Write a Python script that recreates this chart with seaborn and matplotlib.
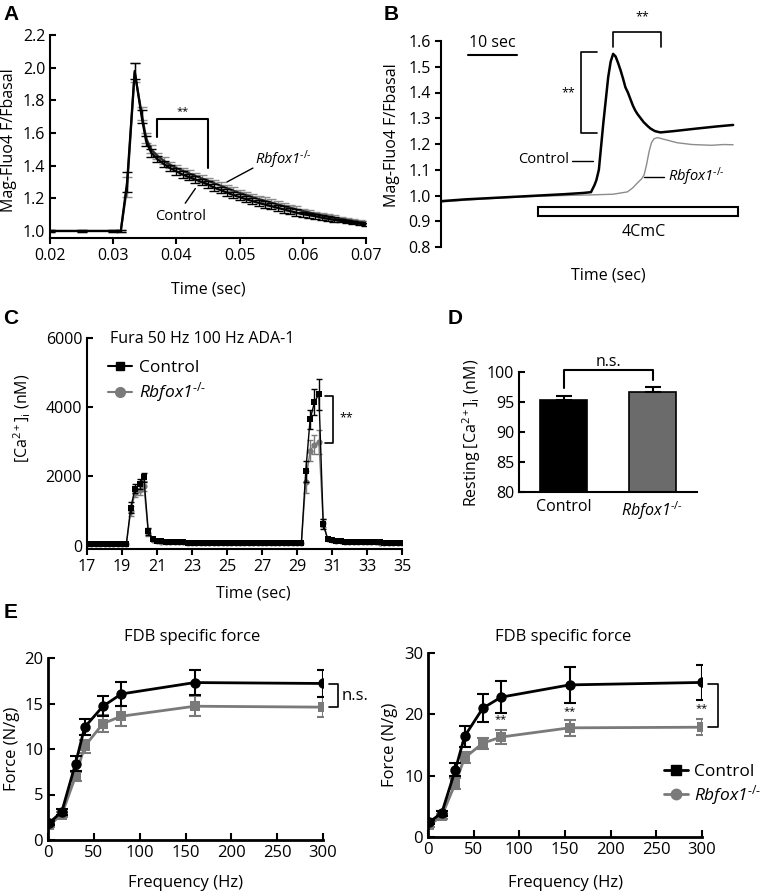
import matplotlib
matplotlib.use("Agg")
import matplotlib.pyplot as plt
from matplotlib.lines import Line2D
from matplotlib.patches import Rectangle
from matplotlib.ticker import FormatStrFormatter
import numpy as np
import pandas as pd
import seaborn as sns

# ---------------- Panel A data (Mag-Fluo4 transient) ----------------
tA = [0.020, 0.025, 0.030, 0.0312, 0.0322, 0.0334, 0.0345, 0.0352, 0.036,
      0.037, 0.038, 0.039, 0.040, 0.041, 0.042, 0.043, 0.044, 0.045, 0.046,
      0.047, 0.048, 0.049, 0.050, 0.051, 0.052, 0.053, 0.054, 0.055, 0.056,
      0.057, 0.058, 0.059, 0.060, 0.061, 0.062, 0.063, 0.064, 0.065, 0.066,
      0.067, 0.068, 0.069, 0.070]
ctrlA = [1.0, 1.0, 1.0, 1.0, 1.30, 1.98, 1.70, 1.55, 1.48,
         1.44, 1.41, 1.385, 1.365, 1.345, 1.33, 1.315, 1.30, 1.285, 1.265,
         1.25, 1.235, 1.22, 1.207, 1.195, 1.183, 1.172, 1.162, 1.152, 1.142,
         1.132, 1.122, 1.112, 1.103, 1.097, 1.09, 1.082, 1.075, 1.068, 1.062,
         1.056, 1.05, 1.045, 1.04]
rbA = [1.0, 1.0, 1.0, 1.0, 1.27, 1.97, 1.72, 1.57, 1.50,
       1.46, 1.43, 1.405, 1.385, 1.368, 1.352, 1.337, 1.322, 1.307, 1.292,
       1.277, 1.262, 1.247, 1.233, 1.22, 1.208, 1.196, 1.185, 1.174, 1.163,
       1.152, 1.142, 1.132, 1.122, 1.113, 1.104, 1.096, 1.088, 1.081, 1.074,
       1.067, 1.061, 1.055, 1.05]
ctrlA_err = [0.005, 0.005, 0.005, 0.005, 0.06, 0.05, 0.04, 0.03, 0.025,
             0.02, 0.02, 0.02, 0.02, 0.02, 0.02, 0.02, 0.02, 0.02, 0.02,
             0.02, 0.02, 0.02, 0.02, 0.02, 0.02, 0.02, 0.02, 0.02, 0.02,
             0.02, 0.02, 0.02, 0.015, 0.015, 0.015, 0.015, 0.015, 0.015, 0.01,
             0.01, 0.01, 0.01, 0.01]
rbA_err = [0.005, 0.005, 0.005, 0.005, 0.06, 0.06, 0.04, 0.03, 0.025,
           0.02, 0.02, 0.02, 0.02, 0.02, 0.02, 0.02, 0.02, 0.02, 0.02,
           0.02, 0.02, 0.02, 0.02, 0.02, 0.02, 0.02, 0.02, 0.02, 0.02,
           0.02, 0.02, 0.02, 0.015, 0.015, 0.015, 0.015, 0.015, 0.015, 0.01,
           0.01, 0.01, 0.01, 0.01]

# ---------------- Panel B data (4CmC response, seconds) ----------------
tB_ctrl = [0, 5, 10, 15, 20, 25, 29, 30.5, 31.2, 31.6, 32.1, 32.6, 33.0, 33.5,
           34.0, 34.5, 35.0, 35.5, 36.0, 36.5, 37.0, 37.5, 38.0, 38.5, 39.0,
           39.5, 40.0, 40.6, 41.2, 42.0, 42.6, 43.5, 44.6, 47.3, 52.0, 56.0, 59.4]
yB_ctrl = [0.978, 0.985, 0.99, 0.995, 1.0, 1.005, 1.01, 1.013, 1.04, 1.06, 1.10,
           1.20, 1.28, 1.37, 1.46, 1.52, 1.55, 1.54, 1.515, 1.487, 1.455, 1.42,
           1.40, 1.375, 1.35, 1.33, 1.315, 1.30, 1.285, 1.27, 1.26, 1.25, 1.245,
           1.25, 1.26, 1.268, 1.274]
tB_rb = [0, 5, 10, 15, 20, 25, 30, 35, 37.9, 39, 40, 40.8, 41.3, 41.8, 42.3,
         42.8, 43.3, 44.0, 45.0, 46, 48, 51, 55, 57.5, 59.4]
yB_rb = [0.975, 0.982, 0.988, 0.993, 0.997, 1.0, 1.002, 1.005, 1.014, 1.03, 1.05,
         1.065, 1.08, 1.12, 1.17, 1.205, 1.22, 1.225, 1.22, 1.215, 1.205, 1.198,
         1.195, 1.198, 1.197]

# ---------------- Panel C data (Fura, nM) ----------------
tC = [17.0, 17.25, 17.5, 17.75, 18.0, 18.25, 18.5, 18.75, 19.0, 19.25,
      19.5, 19.75, 20.0, 20.25, 20.5, 20.75,
      21.0, 21.25, 21.5, 21.75, 22.0, 22.25, 22.5, 22.75, 23.0, 23.25, 23.5, 23.75,
      24.0, 24.25, 24.5, 24.75, 25.0, 25.25, 25.5, 25.75, 26.0, 26.25, 26.5, 26.75,
      27.0, 27.25, 27.5, 27.75, 28.0, 28.25, 28.5, 28.75, 29.0, 29.25,
      29.5, 29.75, 30.0, 30.25, 30.5, 30.75,
      31.0, 31.25, 31.5, 31.75, 32.0, 32.25, 32.5, 32.75, 33.0, 33.25, 33.5, 33.75,
      34.0, 34.25, 34.5, 34.75, 35.0]
ctrlC = [50, 50, 50, 50, 50, 50, 50, 50, 50, 50,
         1100, 1650, 1780, 1980, 420, 180,
         140, 125, 115, 108, 102, 98, 95, 92, 90, 88, 86, 85,
         84, 83, 82, 81, 80, 79, 78, 77, 76, 75, 74, 73,
         72, 72, 71, 71, 70, 70, 70, 70, 70, 70,
         2150, 3650, 4150, 4380, 620, 200,
         160, 140, 128, 120, 114, 109, 105, 102, 99, 97, 95, 93,
         91, 90, 89, 88, 87]
rbC = [50, 50, 50, 50, 50, 50, 50, 50, 50, 50,
       1000, 1520, 1600, 1720, 380, 160,
       135, 120, 112, 105, 100, 96, 93, 90, 88, 86, 85, 84,
       83, 82, 81, 80, 79, 78, 77, 76, 75, 74, 73, 72,
       71, 71, 70, 70, 69, 69, 69, 69, 69, 69,
       1850, 2750, 2920, 3000, 650, 190,
       155, 135, 125, 117, 111, 106, 102, 99, 97, 95, 93, 91,
       90, 89, 88, 87, 86]
errC_t = [19.5, 19.75, 20.0, 20.25, 20.5, 29.5, 29.75, 30.0, 30.25, 30.5]
ctrlC_err = [150, 120, 140, 130, 100, 300, 280, 380, 450, 150]
rbC_err = [150, 120, 130, 150, 90, 320, 300, 280, 350, 120]

# ---------------- Panel D data ----------------
groupsD = ["Control", "Rbfox1"]
restD = [95.3, 96.6]
restD_err = [0.7, 0.95]

# ---------------- Panel E data ----------------
freqE_left = [1, 15, 30, 40, 60, 80, 160, 300]
ctrlE_left = [1.85, 3.1, 8.4, 12.4, 14.7, 16.05, 17.3, 17.2]
ctrlE_left_err = [0.2, 0.3, 0.8, 0.9, 1.1, 1.35, 1.4, 1.5]
rbE_left = [1.6, 2.8, 7.0, 10.3, 12.8, 13.6, 14.7, 14.6]
rbE_left_err = [0.2, 0.3, 0.5, 0.7, 0.9, 1.1, 1.1, 1.1]

freqE_right = [1, 15, 30, 40, 60, 80, 155, 300]
ctrlE_right = [2.4, 3.9, 11.0, 16.4, 21.0, 22.8, 24.8, 25.2]
ctrlE_right_err = [0.3, 0.4, 1.1, 1.7, 2.3, 2.6, 2.9, 2.85]
rbE_right = [1.9, 3.4, 8.8, 12.9, 15.3, 16.3, 17.8, 17.9]
rbE_right_err = [0.3, 0.4, 0.9, 0.9, 0.9, 1.2, 1.3, 1.3]

# ---------------- style ----------------
sns.set_theme(style="ticks")
plt.rcParams['font.family'] = ['Open Sans', 'DejaVu Sans']
plt.rcParams.update({
    'mathtext.fontset': 'custom', 'mathtext.rm': 'Open Sans',
    'mathtext.it': 'Open Sans:italic', 'mathtext.bf': 'Open Sans:bold',
    'axes.linewidth': 1.5, 'axes.edgecolor': 'black',
    'xtick.major.width': 1.5, 'ytick.major.width': 1.5,
    'xtick.major.size': 4, 'ytick.major.size': 4,
    'xtick.color': 'black', 'ytick.color': 'black', 'text.color': 'black',
    'axes.labelcolor': 'black',
})
RB = "Rbfox1$^{\\mathit{\u2010/\u2010}}$"
GRAY = '#7a7a7a'

W, H = 762, 894
fig = plt.figure(figsize=(W / 100, H / 100), dpi=100)


def add_ax(l, t, r, b):
    return fig.add_axes([l / W, 1 - b / H, (r - l) / W, (b - t) / H])


def ftext(x, y, s, **kw):
    kw.setdefault('ha', 'center')
    kw.setdefault('va', 'center')
    fig.text(x / W, 1 - y / H, s, **kw)


def letter(x, y, s):
    ftext(x, y, s, fontsize=15, fontweight='bold', family='Liberation Sans')


TS = 11.5
ES = 12

# ================= Panel A =================
axA = add_ax(50, 35, 366, 238)
axA.errorbar(tA, rbA, yerr=rbA_err, fmt='none', ecolor='#8c8c8c', elinewidth=1,
             capsize=3.5, capthick=1)
sns.lineplot(x=tA, y=rbA, ax=axA, color='#2a2a2a', lw=1.6, sort=False,
             estimator=None, legend=False)
axA.errorbar(tA, ctrlA, yerr=ctrlA_err, fmt='none', ecolor='black', elinewidth=1,
             capsize=3.5, capthick=1)
sns.lineplot(x=tA, y=ctrlA, ax=axA, color='black', lw=1.6, sort=False,
             estimator=None, legend=False)
axA.set_xlim(0.02, 0.07)
axA.set_ylim(0.957, 2.2)
axA.set_xticks([0.02, 0.03, 0.04, 0.05, 0.06, 0.07])
axA.set_yticks([1.0, 1.2, 1.4, 1.6, 1.8, 2.0, 2.2])
axA.xaxis.set_major_formatter(FormatStrFormatter('%.2f'))
axA.yaxis.set_major_formatter(FormatStrFormatter('%.1f'))
axA.tick_params(axis='y', direction='in', labelsize=TS)
axA.tick_params(axis='x', direction='out', labelsize=TS)
axA.set_xlabel('')
axA.set_ylabel('')
sns.despine(ax=axA)
axA.plot([0.0369, 0.0369, 0.0450, 0.0450], [1.576, 1.686, 1.686, 1.385],
         color='black', lw=1.5)
axA.text(0.0410, 1.70, '**', ha='center', va='bottom', fontsize=8)
axA.plot([0.0480, 0.0521], [1.30, 1.385], color='black', lw=1)
axA.text(0.0525, 1.435, RB, ha='left', va='center', fontsize=10.5,
         style='italic')
axA.plot([0.0414, 0.0430], [1.17, 1.26], color='black', lw=1)
axA.text(0.0406, 1.088, 'Control', ha='center', va='center', fontsize=10.5)
ftext(9, 140, 'Mag-Fluo4 F/Fbasal', rotation=90, fontsize=TS)
ftext(208, 290, 'Time (sec)', fontsize=TS)
letter(11, 14, 'A')

# ================= Panel B =================
axB = add_ax(441, 41, 741, 247)
sns.lineplot(x=tB_rb, y=yB_rb, ax=axB, color='#8c8c8c', lw=1.0, sort=False,
             estimator=None, legend=False)
sns.lineplot(x=tB_ctrl, y=yB_ctrl, ax=axB, color='black', lw=1.8, sort=False,
             estimator=None, legend=False)
axB.set_xlim(0, 61)
axB.set_ylim(0.8, 1.6)
axB.set_yticks([0.8, 0.9, 1.0, 1.1, 1.2, 1.3, 1.4, 1.5, 1.6])
axB.yaxis.set_major_formatter(FormatStrFormatter('%.1f'))
axB.set_xticks([])
axB.tick_params(axis='y', direction='out', labelsize=TS)
axB.set_xlabel('')
axB.set_ylabel('')
sns.despine(ax=axB, bottom=True)
axB.add_patch(Rectangle((19.8, 0.920), 40.6, 0.0365, facecolor='white',
                        edgecolor='black', lw=1.5, clip_on=False))
axB.text(41.2, 0.858, '4CmC', ha='center', va='center', fontsize=TS)
axB.plot([5.5, 15.5], [1.546, 1.546], color='black', lw=1.5)
axB.text(10.5, 1.592, '10 sec', ha='center', va='center', fontsize=TS)
axB.plot([31.8, 28.4, 28.4, 31.8], [1.557, 1.557, 1.243, 1.243], color='black',
         lw=1.2, clip_on=False)
axB.text(25.9, 1.40, '**', ha='center', va='center', fontsize=9)
axB.plot([34.9, 34.9, 44.7, 44.7], [1.577, 1.635, 1.635, 1.577], color='black',
         lw=1.2, clip_on=False)
axB.text(41.0, 1.693, '**', ha='center', va='center', fontsize=9, clip_on=False)
axB.plot([26.7, 31.0], [1.135, 1.135], color='black', lw=1)
axB.text(26.0, 1.138, 'Control', ha='right', va='center', fontsize=10.5)
axB.plot([41.2, 45.3], [1.072, 1.072], color='black', lw=1)
axB.text(46.1, 1.072, RB, ha='left', va='center', fontsize=10.5, style='italic')
ftext(392, 135, 'Mag-Fluo4 F/Fbasal', rotation=90, fontsize=TS)
ftext(608, 275, 'Time (sec)', fontsize=TS)
letter(391, 14, 'B')

# ================= Panel C =================
axC = add_ax(87, 338, 402, 549)
lookup_c = dict(zip(tC, ctrlC))
lookup_r = dict(zip(tC, rbC))
sns.lineplot(x=tC, y=rbC, ax=axC, color=GRAY, lw=1, marker='o', markersize=4.5,
             markeredgewidth=0, sort=False, estimator=None, legend=False)
axC.errorbar(errC_t, [lookup_r[t] for t in errC_t], yerr=rbC_err, fmt='none',
             ecolor=GRAY, elinewidth=1, capsize=2.5, capthick=1)
sns.lineplot(x=tC, y=ctrlC, ax=axC, color='black', lw=1, marker='s',
             markersize=4, markeredgewidth=0, sort=False, estimator=None,
             legend=False)
axC.errorbar(errC_t, [lookup_c[t] for t in errC_t], yerr=ctrlC_err, fmt='none',
             ecolor='black', elinewidth=1, capsize=2.5, capthick=1)
axC.set_xlim(17, 35)
axC.set_ylim(-95, 6000)
axC.set_xticks([17, 19, 21, 23, 25, 27, 29, 31, 33, 35])
axC.set_yticks([0, 2000, 4000, 6000])
axC.tick_params(axis='y', direction='in', labelsize=TS)
axC.tick_params(axis='x', direction='out', labelsize=TS)
axC.set_xlabel('')
axC.set_ylabel('')
sns.despine(ax=axC)
axC.plot([30.6, 31.06, 31.06, 30.6], [4327, 4327, 2968, 2968], color='black',
         lw=1.2)
axC.text(31.45, 3690, '**', ha='left', va='center', fontsize=9)
ftext(202, 339, 'Fura 50 Hz 100 Hz ADA-1', fontsize=TS)
hC = [Line2D([], [], color='black', marker='s', markersize=6, lw=1.5),
      Line2D([], [], color=GRAY, marker='o', markersize=7, lw=1.5)]
legC = axC.legend(hC, ['Control', RB], loc='upper left', frameon=False,
                  fontsize=12.5, bbox_to_anchor=(108 / W, 1 - 360 / H),
                  bbox_transform=fig.transFigure, borderaxespad=0, borderpad=0,
                  handlelength=1.4, handletextpad=0.4, labelspacing=0.25)
legC.get_texts()[1].set_style('italic')
ftext(22, 418, r'[Ca$^{2+}$]$_\mathrm{i}$ (nM)', rotation=90, fontsize=TS)
ftext(253, 593, 'Time (sec)', fontsize=TS)
letter(11, 319, 'C')

# ================= Panel D =================
axD = add_ax(519, 372, 697, 492)
dfD = pd.DataFrame({'group': groupsD, 'value': restD})
sns.barplot(data=dfD, x='group', y='value', hue='group',
            palette=['black', '#6b6b6b'], edgecolor='black', linewidth=1.2,
            width=0.53, ax=axD, legend=False)
axD.errorbar([0, 1], restD, yerr=[[0, 0], restD_err], fmt='none', ecolor='black',
             elinewidth=1.5, capsize=6, capthick=1.5)
axD.set_xlim(-0.5, 1.5)
axD.set_ylim(80, 100)
axD.set_yticks([80, 85, 90, 95, 100])
axD.set_xticks([0, 1])
axD.set_xticklabels(['Control', RB])
axD.get_xticklabels()[1].set_style('italic')
axD.tick_params(axis='y', direction='in', labelsize=TS)
axD.tick_params(axis='x', length=0, labelsize=TS, pad=5)
axD.set_xlabel('')
axD.set_ylabel('')
sns.despine(ax=axD)
axD.plot([0, 0, 1, 1], [97.3, 100.33, 100.33, 98.7], color='black', lw=1.5,
         clip_on=False)
axD.text(0.5, 101.7, 'n.s.', ha='center', va='center', fontsize=TS)
ftext(472, 433, r'Resting [Ca$^{2+}$]$_\mathrm{i}$ (nM)', rotation=90, fontsize=TS)
letter(455, 319, 'D')


# ================= Panel E =================
def force_panel(ax, freq, c, ce, r, re, ymax, yticks):
    ax.errorbar(freq, r, yerr=re, fmt='none', ecolor=GRAY, elinewidth=1.5,
                capsize=4.5, capthick=1.5)
    sns.lineplot(x=freq, y=r, ax=ax, color=GRAY, lw=2, marker='s', markersize=7,
                 markeredgewidth=0, sort=False, estimator=None, legend=False)
    ax.errorbar(freq, c, yerr=ce, fmt='none', ecolor='black', elinewidth=1.5,
                capsize=4.5, capthick=1.5)
    sns.lineplot(x=freq, y=c, ax=ax, color='black', lw=2, marker='o',
                 markersize=7.5, markeredgewidth=0, sort=False, estimator=None,
                 legend=False)
    ax.set_xlim(0, 300)
    ax.set_ylim(0, ymax)
    ax.set_xticks([0, 50, 100, 150, 200, 250, 300])
    ax.set_yticks(yticks)
    ax.tick_params(axis='both', direction='in', labelsize=ES, length=5)
    ax.set_xlabel('')
    ax.set_ylabel('')
    sns.despine(ax=ax)
    for sp in ax.spines.values():
        sp.set_linewidth(2)


axE1 = add_ax(48, 658, 323, 840)
force_panel(axE1, freqE_left, ctrlE_left, ctrlE_left_err, rbE_left, rbE_left_err,
            20, [0, 5, 10, 15, 20])
axE1.plot([307, 316.5, 316.5, 307], [17.1, 17.1, 14.65, 14.65], color='black',
          lw=1.2, clip_on=False)
axE1.text(320.4, 15.8, 'n.s.', ha='left', va='center', fontsize=ES)
ftext(192, 637, 'FDB specific force', fontsize=ES)
ftext(12, 749, 'Force (N/g)', rotation=90, fontsize=ES)
ftext(185, 883, 'Frequency (Hz)', fontsize=ES)
letter(11, 612, 'E')

axE2 = add_ax(428, 653, 702, 837)
force_panel(axE2, freqE_right, ctrlE_right, ctrlE_right_err, rbE_right,
            rbE_right_err, 30, [0, 10, 20, 30])
axE2.plot([306.9, 317.9, 317.9, 306.9], [24.9, 24.9, 18.0, 18.0], color='black',
          lw=1.2, clip_on=False)
for f, yv in zip([80, 155, 300], [19.1, 20.4, 21.0]):
    axE2.text(f, yv, '**', ha='center', va='center', fontsize=8)
hE = [Line2D([], [], color='black', marker='s', markersize=7, lw=2),
      Line2D([], [], color=GRAY, marker='o', markersize=7.5, lw=2)]
legE = axE2.legend(hE, ['Control', RB], loc='upper left', frameon=False,
                   fontsize=12.5, bbox_to_anchor=(664 / W, 1 - 764 / H),
                   bbox_transform=fig.transFigure, borderaxespad=0, borderpad=0,
                   handlelength=1.4, handletextpad=0.3, labelspacing=0.15)
legE.get_texts()[1].set_style('italic')
ftext(563, 637, 'FDB specific force', fontsize=ES)
ftext(390, 745, 'Force (N/g)', rotation=90, fontsize=ES)
ftext(566, 883, 'Frequency (Hz)', fontsize=ES)

fig.savefig('out.png', dpi=100, facecolor='white')
